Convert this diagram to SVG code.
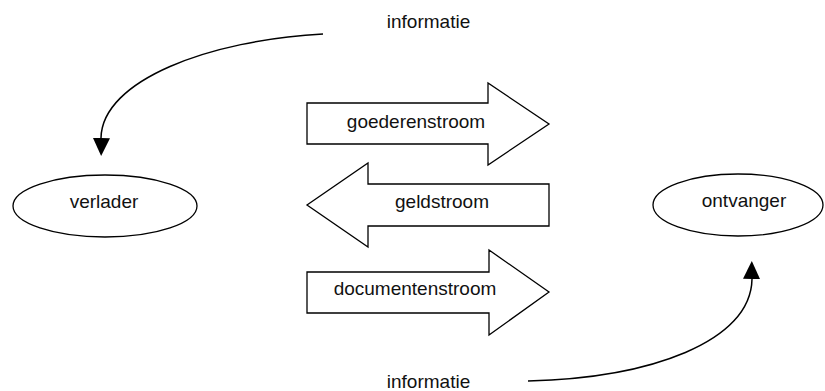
<svg xmlns="http://www.w3.org/2000/svg" width="825" height="391" viewBox="0 0 825 391">
<style>
.shape{fill:#fff;stroke:#000;stroke-width:1.3}
.lbl{font-family:"Liberation Sans",Arial,sans-serif;font-size:19px;fill:#111;text-anchor:middle}
.conn{fill:none;stroke:#000;stroke-width:1.5}
</style>
<defs>
<marker id="ah" markerWidth="18" markerHeight="19" refX="0" refY="9.5" orient="auto" markerUnits="userSpaceOnUse" viewBox="0 0 19 18">
<path d="M0,0 L19,9 L0,18 Z" fill="#000"/>
</marker>
</defs>
<rect width="825" height="391" fill="#fff"/>
<g id="connectors">
<path class="conn" d="M323,34 C210,40 102,80 101,138" marker-end="url(#ah)"/>
<path class="conn" d="M528,381 C650,378 751,342 752,279" marker-end="url(#ah)"/>
</g>
<g id="verlader">
<ellipse class="shape" cx="105" cy="206" rx="92" ry="31"/>
<text class="lbl" x="104" y="208">verlader</text>
</g>
<g id="ontvanger">
<ellipse class="shape" cx="738" cy="205" rx="85" ry="31"/>
<text class="lbl" x="744" y="207">ontvanger</text>
</g>
<g id="goederenstroom">
<path class="shape" d="M307,103 H488 V83 L549,124 L488,165 V144 H307 Z"/>
<text class="lbl" x="416" y="128">goederenstroom</text>
</g>
<g id="geldstroom">
<path class="shape" d="M549,184 H368 V163 L307,205 L368,247 V226 H549 Z"/>
<text class="lbl" x="442" y="208">geldstroom</text>
</g>
<g id="documentenstroom">
<path class="shape" d="M307,272 H489 V250 L549,292 L489,335 V313 H307 Z"/>
<text class="lbl" x="415" y="295">documentenstroom</text>
</g>
<g id="informatie-top">
<text class="lbl" x="428.5" y="28">informatie</text>
</g>
<g id="informatie-bottom">
<text class="lbl" x="428.5" y="388">informatie</text>
</g>
</svg>
